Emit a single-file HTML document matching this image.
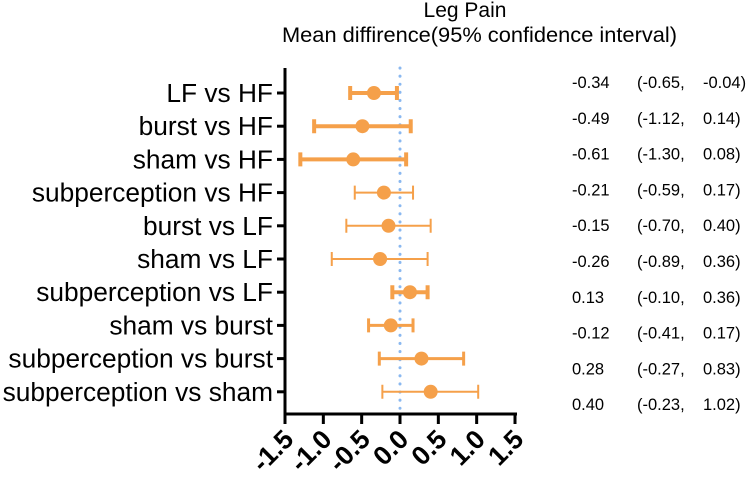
<!DOCTYPE html>
<html><head><meta charset="utf-8"><style>
body{margin:0;background:#fff;}
svg{display:block;font-family:"Liberation Sans",Arial,sans-serif;}
</style></head><body>
<svg width="750" height="488" viewBox="0 0 750 488">
<text x="465" y="17" text-anchor="middle" font-size="21">Leg Pain</text>
<text x="282" y="42" font-size="21" textLength="395" lengthAdjust="spacingAndGlyphs">Mean diffirence(95% confidence interval)</text>
<g id="plot"></g>
</svg>
<script>
const labels=["LF vs HF","burst vs HF","sham vs HF","subperception vs HF","burst vs LF","sham vs LF","subperception vs LF","sham vs burst","subperception vs burst","subperception vs sham"];
const means=[-0.34,-0.49,-0.61,-0.21,-0.15,-0.26,0.13,-0.12,0.28,0.40];
const lows=[-0.65,-1.12,-1.30,-0.59,-0.70,-0.89,-0.10,-0.41,-0.27,-0.23];
const highs=[-0.04,0.14,0.08,0.17,0.40,0.36,0.36,0.17,0.83,1.02];
const xTicks=["-1.5","-1.0","-0.5","0.0","0.5","1.0","1.5"];
const thick=[4,4,4,2,2,2,4,3,3,2];
const NS="http://www.w3.org/2000/svg";
const g=document.getElementById('plot');
const x=v=>400+v*(230/3);
const y=i=>93+i*33.2;
function mk(t,a,p){const e=document.createElementNS(NS,t);for(const k in a)e.setAttribute(k,a[k]);(p||g).appendChild(e);return e;}
let z=mk('line',{x1:x(0),x2:x(0),y1:68,y2:412,stroke:'#8ab8f0','stroke-width':3,'stroke-dasharray':'0.1 8','stroke-linecap':'round'});


let ya=mk('line',{x1:285,x2:285,y1:68,y2:415,stroke:'#000','stroke-width':3});


let xa=mk('line',{x1:284,x2:517,y1:414,y2:414,stroke:'#000','stroke-width':3});


xTicks.forEach((t,i)=>{const v=parseFloat(t);const xx=x(v);
 let tk=mk('line',{x1:xx,x2:xx,y1:414,y2:424,stroke:'#000','stroke-width':3});
 
 
 let tl=mk('text',{x:xx+10,y:441,'text-anchor':'end','font-size':26.5,'font-weight':'bold',transform:`rotate(-45 ${xx+10} 441)`});
 tl.textContent=t;
 
 
});
labels.forEach((l,i)=>{const yy=y(i);
 let tk=mk('line',{x1:277,x2:285,y1:yy,y2:yy,stroke:'#000','stroke-width':3});
 
 
 let tl=mk('text',{x:273,y:yy+9,'text-anchor':'end','font-size':26.3});
 tl.textContent=l;
 
 
 const w=thick[i];
 let eb=mk('path',{d:`M${x(lows[i])} ${yy}H${x(highs[i])}M${x(lows[i])} ${yy-7}V${yy+7}M${x(highs[i])} ${yy-7}V${yy+7}`,stroke:'#f5a04a','stroke-width':w,fill:'none'});
 
 
 let c=mk('circle',{cx:x(means[i]),cy:yy,r:7,fill:'#f5a04a'});
 
 
 const ty=88+i*35.8;
 const f=v=>v.toFixed(2);
 let t1=mk('text',{x:572,y:ty,'font-size':16.5});t1.textContent=f(means[i]);
 
 
 let t2=mk('text',{x:637,y:ty,'font-size':16.5});t2.textContent='('+f(lows[i])+',';
 
 
 let t3=mk('text',{x:703,y:ty,'font-size':16.5});t3.textContent=f(highs[i])+')';
 
 
});
</script>
</body></html>
